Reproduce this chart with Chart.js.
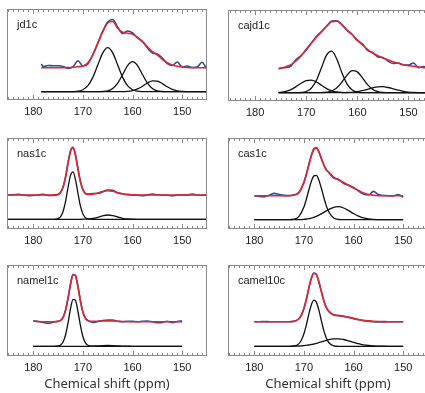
<!DOCTYPE html>
<html><head><meta charset="utf-8">
<script src="https://cdn.jsdelivr.net/npm/chart.js@4.4.1/dist/chart.umd.min.js"></script>
<style>
html,body{margin:0;padding:0;background:#fff;overflow:hidden;width:425px;height:393px;}
canvas{position:absolute;}
</style></head><body>
<canvas id="p1" width="200" height="113" style="left:7px;top:9px"></canvas>
<canvas id="p2" width="206" height="113" style="left:228px;top:10px"></canvas>
<canvas id="p3" width="200" height="113" style="left:7px;top:138px"></canvas>
<canvas id="p4" width="200" height="113" style="left:228px;top:138px"></canvas>
<canvas id="p5" width="200" height="127" style="left:7px;top:265px"></canvas>
<canvas id="p6" width="200" height="127" style="left:228px;top:265px"></canvas>
<script>
// ---------- DATA ----------
const xTickLabels = [180, 170, 160, 150];
const xTitle = 'Chemical shift (ppm)';
const panelNames = ['jd1c', 'cajd1c', 'nas1c', 'cas1c', 'namel1c', 'camel10c'];

// jd1c
const jd1c_ppm = [178.4,178,177,176,175,174,173,172,171,170,169,168,167,166,165,164,163,162,161,160,159,158,157,156,155,154,153,152,151,150,149,148,147,146,145];
const jd1c_fit = [32.3,32.3,32.3,32.3,32.3,32.4,32.5,32.8,33.3,34,37.3,45,56.7,68.3,77,78.5,71.7,67.7,66.7,65.7,62.7,58.3,53.3,48.3,45,40.7,37.3,35,33.7,33,32.5,32.3,32.3,32.3,32.3];
const jd1c_exp = [36,33.5,34.5,34.3,34.3,33.5,31.5,33.3,39.3,34,36,45.5,57,69,78,80.5,73,66.5,69,67,62,58.5,52,47,46,42,36.5,34.5,38,33,34,32.5,33,37.7,30.5];
const jd1c_c1 = [8.3,8.3,8.3,8.3,8.3,8.3,8.3,8.4,8.8,10.2,14.3,22.6,35.0,47.1,52.3,47.1,35.0,22.6,14.3,10.2,8.8,8.4,8.3,8.3,8.3,8.3,8.3,8.3,8.3,8.3,8.3,8.3,8.3,8.3,8.3];
const jd1c_c2 = [8.3,8.3,8.3,8.3,8.3,8.3,8.3,8.3,8.3,8.3,8.3,8.3,8.3,8.5,9.2,11.6,16.9,25.5,34.4,38.3,34.4,25.5,16.9,11.6,9.2,8.5,8.3,8.3,8.3,8.3,8.3,8.3,8.3,8.3,8.3];
const jd1c_c3 = [8.3,8.3,8.3,8.3,8.3,8.3,8.3,8.3,8.3,8.3,8.3,8.3,8.3,8.3,8.3,8.3,8.3,8.3,8.6,9.4,11.1,13.8,17.0,19.1,18.8,16.4,13.2,10.7,9.2,8.6,8.4,8.3,8.3,8.3,8.3];

// cajd1c
const cajd1c_ppm = [175.4,175,174,173,172,171,170,169,168,167,166,165,164,163,162,161,160,159,158,157,156,155,154,153,152,151,150,149,148,147,146,145];
const cajd1c_fit = [32.3,32.5,34.3,36.3,40,45,51.7,57.7,63.7,69.3,74.7,79.3,79.7,76,71,66.3,61,56,51.7,48,45.3,43,41,39.3,37.7,36.3,35.3,34.7,34,33.3,33,32.7];
const cajd1c_exp = [32.5,33,33.5,35,41.5,45.5,51,58,64.5,69.5,75,80,80.3,76.5,70.5,66.5,60.5,57,50.5,48.5,44,43.5,40,37.5,38,36,36,38,33.3,34.5,33.5,34];
const cajd1c_c1 = [8.6,8.7,9.6,11.4,14.3,17.7,20.4,20.9,19.0,15.7,12.4,10.2,9.0,8.5,8.3,8.3,8.3,8.3,8.3,8.3,8.3,8.3,8.3,8.3,8.3,8.3,8.3,8.3,8.3,8.3,8.3,8.3];
const cajd1c_c2 = [8.3,8.3,8.3,8.3,8.3,8.5,9.5,12.8,20.7,33.6,46.1,49.8,41.7,28.1,16.9,11.1,8.9,8.4,8.3,8.3,8.3,8.3,8.3,8.3,8.3,8.3,8.3,8.3,8.3,8.3,8.3,8.3];
const cajd1c_c3 = [8.3,8.3,8.3,8.3,8.3,8.3,8.3,8.3,8.3,8.3,8.8,10.0,13.2,19.0,25.9,30.3,29.1,23.2,16.4,11.6,9.3,8.5,8.3,8.3,8.3,8.3,8.3,8.3,8.3,8.3,8.3,8.3];
const cajd1c_c4 = [8.3,8.3,8.3,8.3,8.3,8.3,8.3,8.3,8.3,8.3,8.3,8.3,8.3,8.3,8.5,8.7,9.3,10.3,11.6,13.1,14.1,14.3,13.5,12.2,10.8,9.7,8.9,8.6,8.4,8.3,8.3,8.3];

// nas1c
const nas1c_ppm = [185.5,184,183,182,181,180,179,178,177,176,175,174.5,174,173.5,173,172.5,172,171.5,171,170.5,170,169.5,169,168,167,166,165,164,163,162,161,160,159,158,157,156,155,154,153,152,151,150,149,148,147,146,145,144.5];
const nas1c_fit = [34,34,34,34,34,34,34,34,34,34,34.7,36.7,41.8,51.9,65.8,77.9,81.4,73.7,60,47.2,39.4,35.7,34.6,34.8,36.0,37.5,38.3,37.7,36.3,35.0,34.3,34.1,34,34,34,34,34,34,34,34,34,34,34,34,34,34,34,34];
const nas1c_exp = [34,34.2,34.8,34,33.2,33.6,34,34.8,33.5,33.6,34.5,36.5,42,52,66,78,81.6,74,60,47.5,39.5,35.5,35,35.5,35.5,37.2,39,38.8,36,35.2,34.6,34,33.8,33.2,34,35,34.2,34,33.8,33.2,34,34.2,34,35,34,33.8,34,34];
const nas1c_c1 = [9.7,9.7,9.7,9.7,9.7,9.7,9.7,9.7,9.7,9.7,10.4,12.4,17.5,27.6,41.5,53.6,57.1,49.4,35.7,22.9,15.0,11.3,10.1,9.7,9.7,9.7,9.7,9.7,9.7,9.7,9.7,9.7,9.7,9.7,9.7,9.7,9.7,9.7,9.7,9.7,9.7,9.7,9.7,9.7,9.7,9.7,9.7,9.7];
const nas1c_c2 = [9.7,9.7,9.7,9.7,9.7,9.7,9.7,9.7,9.7,9.7,9.7,9.7,9.7,9.7,9.7,9.7,9.7,9.7,9.7,9.7,9.8,9.8,9.9,10.5,11.7,13.2,14.0,13.4,12.0,10.7,10.0,9.8,9.7,9.7,9.7,9.7,9.7,9.7,9.7,9.7,9.7,9.7,9.7,9.7,9.7,9.7,9.7,9.7];

// cas1c
const cas1c_ppm = [180,179,178,177,176,175,174,173,172,171,170,169.5,169,168.5,168,167.5,167,166.5,166,165.5,165,164,163,162,161,160,159,158,157,156,155,154,153,152,151,150];
const cas1c_fit = [33.3,33.3,33.3,33.3,33.3,33.3,33.3,33.4,33.8,36.7,46.4,54.7,64.3,73.3,79.5,80.9,77.6,70.8,64,59,57,52,49,46.5,43.5,41,38.5,36,34.5,33.8,33.4,33.3,33.3,33.3,33.3,33.3];
const cas1c_exp = [33.3,32.5,32.3,33.8,35.6,34.5,33.6,33.2,34.2,36.3,46.8,55,64.8,73.8,80.2,81.5,77.2,70.5,64.5,59.5,56.5,51,49.5,45.5,44,41.5,38,35,34,37.6,34.5,33.5,33.3,33,34.5,31.6];
const cas1c_c1 = [9.3,9.3,9.3,9.3,9.3,9.3,9.3,9.3,9.8,12.6,22.0,30.0,39.2,47.7,53.1,53.6,49.1,41.0,31.8,23.4,17.2,11.0,9.5,9.3,9.3,9.3,9.3,9.3,9.3,9.3,9.3,9.3,9.3,9.3,9.3,9.3];
const cas1c_c2 = [9.3,9.3,9.3,9.3,9.3,9.3,9.3,9.3,9.3,9.4,9.7,10.0,10.4,10.9,11.7,12.6,13.8,15.1,16.6,18.1,19.5,21.7,22.3,21.0,18.4,15.4,12.8,11.1,10.1,9.6,9.4,9.3,9.3,9.3,9.3,9.3];

// namel1c
const namel1c_ppm = [180,179,178,177,176,175,174.5,174,173.5,173,172.5,172,171.5,171,170.5,170,169.5,169,168,167,166,165,164,163,162,161,160,159,158,157,156,155,154,153,152,151,150];
const namel1c_fit = [35,34.5,34.3,34.3,34.3,34.6,35.5,38.6,45.6,57.7,71.9,81.3,80.2,69.1,54.9,43.8,37.7,35.3,34.6,34.8,35.0,35.1,35.0,34.8,34.5,34.3,34.3,34.3,34.3,34.3,34.3,34.3,34.3,34.3,34.3,34.3,34.3];
const namel1c_exp = [35,34.5,33.5,32.7,33.8,34.8,35.5,38.8,46,58,72,81.5,80.5,69.5,55,44,38,35.6,33.6,34.5,35.5,36,36,34.8,34.2,34.8,34.6,34.3,34.8,35,34.2,33.3,33.5,34.8,33.3,34.5,35];
const namel1c_c1 = [9.7,9.7,9.7,9.7,9.7,10.0,10.9,14.0,21.0,33.1,47.3,56.7,55.6,44.5,30.3,19.2,13.1,10.7,9.8,9.7,9.7,9.7,9.7,9.7,9.7,9.7,9.7,9.7,9.7,9.7,9.7,9.7,9.7,9.7,9.7,9.7,9.7];
const namel1c_c2 = [9.7,9.7,9.7,9.7,9.7,9.7,9.7,9.7,9.7,9.7,9.7,9.7,9.7,9.7,9.7,9.7,9.7,9.7,9.9,10.2,10.4,10.5,10.4,10.2,9.9,9.8,9.7,9.7,9.7,9.7,9.7,9.7,9.7,9.7,9.7,9.7,9.7];

// camel10c
const camel10c_ppm = [180,179,178,177,176,175,174,173,172,171,170.5,170,169.5,169,168.5,168,167.5,167,166.5,166,165.5,165,164,163,162,161,160,159,158,157,156,155,154,153,152,151,150];
const camel10c_fit = [34.3,34.3,34.3,34.3,34.3,34.3,34.3,34.3,34.7,37.3,41.1,47.5,57.0,68.0,77.7,82.8,81.5,74.4,64.7,55.4,48.6,44.7,41.2,40.5,39.8,38.8,37.6,36.5,35.6,35.1,34.7,34.5,34.4,34.3,34.3,34.3,34.3];
const camel10c_exp = [34.3,34.3,34.4,34.3,34.2,34.3,34.3,34.3,34.6,37.2,41,47.4,57.1,68.1,77.8,82.9,81.6,74.3,64.6,55.3,48.5,44.6,41.1,40.4,39.6,38.6,37.3,36.2,35.3,34.8,34.3,34.1,34.1,34.2,34.3,34.2,34.3];
const camel10c_c1 = [9.7,9.7,9.7,9.7,9.7,9.7,9.7,9.7,10.0,12.4,16.0,22.2,31.4,42.1,51.3,55.9,53.9,46.1,35.6,25.6,18.1,13.5,10.2,9.7,9.7,9.7,9.7,9.7,9.7,9.7,9.7,9.7,9.7,9.7,9.7,9.7,9.7];
const camel10c_c2 = [9.7,9.7,9.7,9.7,9.7,9.7,9.7,9.7,9.8,10.0,10.2,10.4,10.7,11.0,11.5,12.0,12.7,13.4,14.2,14.9,15.6,16.3,17.1,17.2,16.5,15.2,13.7,12.3,11.2,10.5,10.1,9.9,9.8,9.7,9.7,9.7,9.7];

// ---------- CHARTS ----------
const panelData = [
  {ppm: jd1c_ppm, fit: jd1c_fit, exp: jd1c_exp, comps: [jd1c_c1, jd1c_c2, jd1c_c3]},
  {ppm: cajd1c_ppm, fit: cajd1c_fit, exp: cajd1c_exp, comps: [cajd1c_c1, cajd1c_c2, cajd1c_c3, cajd1c_c4]},
  {ppm: nas1c_ppm, fit: nas1c_fit, exp: nas1c_exp, comps: [nas1c_c1, nas1c_c2]},
  {ppm: cas1c_ppm, fit: cas1c_fit, exp: cas1c_exp, comps: [cas1c_c1, cas1c_c2]},
  {ppm: namel1c_ppm, fit: namel1c_fit, exp: namel1c_exp, comps: [namel1c_c1, namel1c_c2]},
  {ppm: camel10c_ppm, fit: camel10c_fit, exp: camel10c_exp, comps: [camel10c_c1, camel10c_c2]}
];

const pts = (xs, ys) => xs.map((x, i) => ({x: x, y: ys[i]}));

const framePlugin = {
  id: 'frame',
  afterDatasetsDraw(chart, args, opts) {
    const {ctx, chartArea: {left, right, top, bottom}, scales: {x}} = chart;
    ctx.save();
    ctx.strokeStyle = '#8a8a8a';
    ctx.lineWidth = 1;
    ctx.strokeRect(left + 0.5, top + 0.5, right - left - 1, bottom - top - 1);
    ctx.beginPath();
    for (let v = Math.ceil(x.min); v <= x.max; v++) {
      const px = Math.round(x.getPixelForValue(v)) + 0.5;
      const len = v % 10 === 0 ? 4 : 2;
      ctx.moveTo(px, top + 1); ctx.lineTo(px, top + 1 + len);
      ctx.moveTo(px, bottom - 1); ctx.lineTo(px, bottom - 1 - len);
    }
    ctx.stroke();
    ctx.fillStyle = '#222';
    ctx.font = '11px "Liberation Sans", Arial, sans-serif';
    ctx.textBaseline = 'middle';
    ctx.fillText(opts.label, left + 10, top + 16);
    ctx.restore();
  }
};

const ids = ['p1', 'p2', 'p3', 'p4', 'p5', 'p6'];
ids.forEach((id, k) => {
  const d = panelData[k];
  const isBottom = k >= 4;
  const datasets = [
    {data: pts(d.ppm, d.fit), borderColor: '#e3262d', borderWidth: 1.6},
    {data: pts(d.ppm, d.exp), borderColor: '#2b4c9b', borderWidth: 1.6}
  ].concat(d.comps.map(c => ({data: pts(d.ppm, c), borderColor: '#111111', borderWidth: 1.3})));
  datasets.forEach(ds => { ds.pointRadius = 0; ds.cubicInterpolationMode = 'monotone'; ds.fill = false; });
  new Chart(document.getElementById(id), {
    type: 'line',
    data: {datasets: datasets},
    options: {
      responsive: false,
      animation: false,
      events: [],
      layout: {padding: 0},
      plugins: {legend: {display: false}, tooltip: {enabled: false}, frame: {label: panelNames[k]}},
      scales: {
        x: {
          type: 'linear', reverse: true, min: 145, max: 185.3,
          grid: {display: false, drawTicks: false},
          border: {display: false},
          afterBuildTicks: s => { s.ticks = xTickLabels.map(v => ({value: v})); },
          afterFit: s => { s.height = isBottom ? 36 : 22; },
          ticks: {color: '#222', padding: 5, font: {family: '"Liberation Sans", Arial, sans-serif', size: 11}, maxRotation: 0},
          title: {display: isBottom, text: xTitle, color: '#333', padding: 0,
                  font: {family: '"Noto Sans", sans-serif', size: 13}}
        },
        y: {display: false, min: 0, max: 91}
      }
    },
    plugins: [framePlugin]
  });
});
</script>
</body></html>
